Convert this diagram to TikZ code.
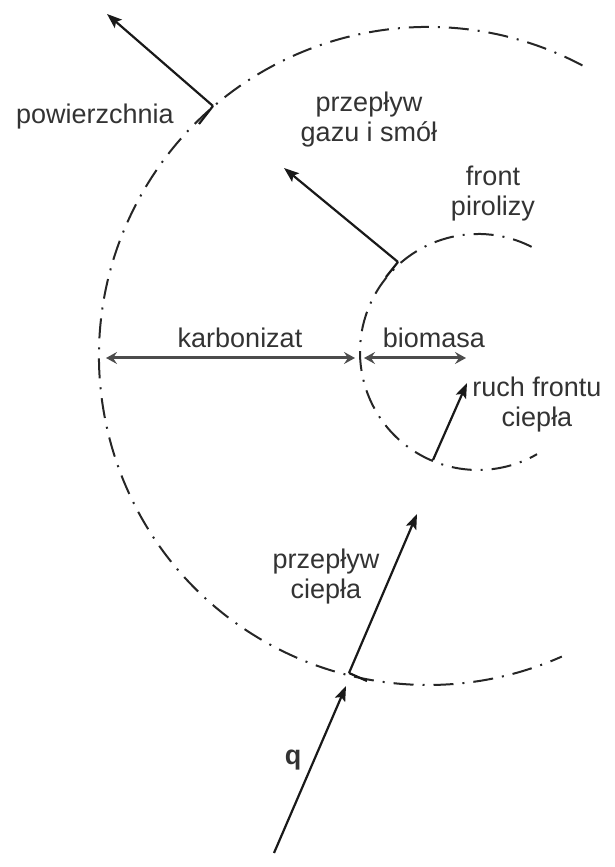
\documentclass[tikz,border=0pt]{standalone}
\usepackage{fontspec}
\setmainfont{Liberation Sans}
\usetikzlibrary{arrows.meta}
\begin{document}
\begin{tikzpicture}[x=1pt,y=1pt,
  dashdot/.style={line width=2pt,dash pattern=on 20pt off 9pt on 2pt off 9pt,black!85},
  arr/.style={line width=2.2pt,-{Stealth[length=15pt,width=11pt,inset=3pt]},black!90},
  dbl/.style={line width=3pt,{Stealth[length=11pt,width=12pt,inset=4pt]}-{Stealth[length=11pt,width=12pt,inset=4pt]},black!70},
  tick/.style={line width=2.2pt,black!90},
  lbl/.style={font=\fontsize{27}{30}\selectfont,text=black!80,align=center,inner sep=0pt}]
\useasboundingbox (0,0) rectangle (615,867);
% circles (arcs)
\coordinate (oc) at (428,511);
\coordinate (ic) at (478,515);
\draw[dashdot] (oc) ++(62:329) arc[start angle=62,end angle=294,radius=329pt];
\draw[dashdot] (ic) ++(63:118) arc[start angle=63,end angle=300,radius=118pt];
% arrows
\coordinate (a1t) at (213,761); \coordinate (a1h) at (107,853); \coordinate (a1k) at (199,743);
\draw[arr] (a1t) -- (a1h); \draw[tick] (a1t) -- (a1k);
\coordinate (a2t) at (398,605); \coordinate (a2h) at (284,699); \coordinate (a2k) at (386,590);
\draw[arr] (a2t) -- (a2h); \draw[tick] (a2t) -- (a2k);
\coordinate (k1) at (106,509); \coordinate (k2) at (355,509);
\draw[dbl] (k1) -- (k2);
\coordinate (b1) at (364,509); \coordinate (b2) at (466,509);
\draw[dbl] (b1) -- (b2);
\coordinate (rt) at (433,407); \coordinate (rh) at (467,484);
\draw[arr] (rt) -- (rh);
\coordinate (ht) at (349,194); \coordinate (hh) at (417,353); \coordinate (hk) at (367,186);
\draw[arr] (ht) -- (hh); \draw[tick] (ht) -- (hk);
\coordinate (qt) at (274,14); \coordinate (qh) at (346,181);
\draw[arr] (qt) -- (qh);
% labels
\node[lbl] (pow) at (95,750) {powierzchnia};
\node[lbl] (gaz) at (369,747) {przepływ\\gazu i smół};
\node[lbl] (fro) at (493,673) {front\\pirolizy};
\node[lbl] (kar) at (240,529) {karbonizat};
\node[lbl] (bio) at (434,529) {biomasa};
\node[lbl] (ruch) at (537,462) {ruch frontu\\ciepła};
\node[lbl] (cie) at (326,290) {przepływ\\ciepła};
\node[lbl,font=\fontsize{27}{30}\selectfont\bfseries] (q) at (293,107) {q};
\end{tikzpicture}
\end{document}
